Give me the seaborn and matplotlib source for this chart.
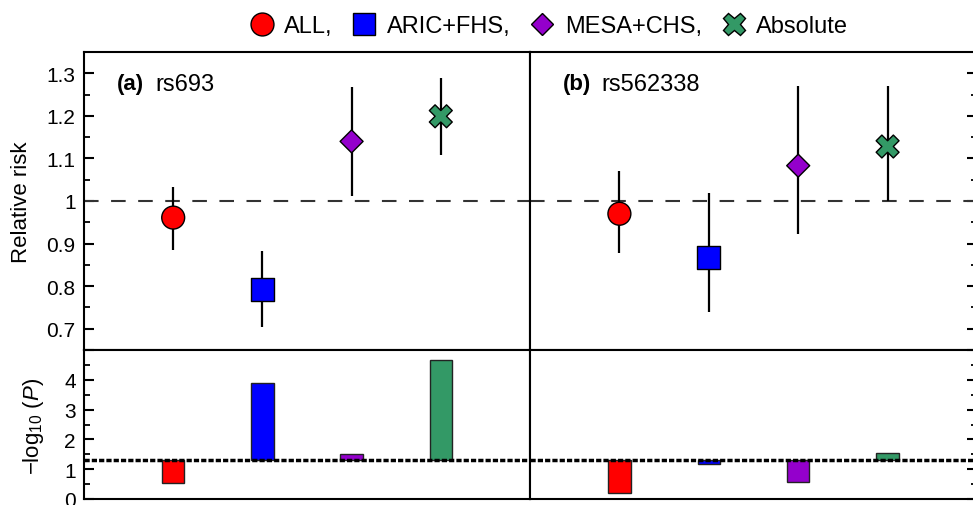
import matplotlib
matplotlib.use("Agg")
import matplotlib.pyplot as plt
import numpy as np
import pandas as pd
import seaborn as sns
from matplotlib.lines import Line2D
from matplotlib.ticker import MultipleLocator, FuncFormatter

# groups, plotting order and styles
groups = ["ALL", "ARIC+FHS", "MESA+CHS", "Absolute"]
positions = [1, 2, 3, 4]
colors = {"ALL": "#FF0000", "ARIC+FHS": "#0000FF", "MESA+CHS": "#9400CC", "Absolute": "#339966"}
markers = {"ALL": "o", "ARIC+FHS": "s", "MESA+CHS": "D", "Absolute": "X"}
sizes = {"ALL": 272, "ARIC+FHS": 272, "MESA+CHS": 137, "Absolute": 272}

# relative risk and CI, panel (a) rs693
rr_a = [0.961, 0.792, 1.140, 1.199]
lo_a = [0.886, 0.703, 1.012, 1.107]
hi_a = [1.034, 0.882, 1.267, 1.290]
# panel (b) rs562338
rr_b = [0.970, 0.868, 1.083, 1.128]
lo_b = [0.878, 0.739, 0.923, 1.000]
hi_b = [1.071, 1.018, 1.270, 1.270]

# -log10(P)
logp_a = [0.54, 3.88, 1.50, 4.67]
logp_b = [0.21, 1.16, 0.57, 1.55]
threshold = 1.3

sns.set_theme(style="white")
plt.rcParams["font.family"] = ["Liberation Sans", "DejaVu Sans"]
plt.rcParams["mathtext.fontset"] = "custom"
plt.rcParams["mathtext.rm"] = "Liberation Sans"
plt.rcParams["mathtext.it"] = "Liberation Sans:italic"
plt.rcParams["axes.linewidth"] = 1.5
for key in ["text.color", "axes.labelcolor", "xtick.color", "ytick.color", "axes.edgecolor"]:
    plt.rcParams[key] = "black"

W, H = 973, 506
fig = plt.figure(figsize=(W / 100, H / 100), dpi=100)


def px_axes(x0, y0, x1, y1):
    return fig.add_axes([x0 / W, 1 - y1 / H, (x1 - x0) / W, (y1 - y0) / H])


ax_tl = px_axes(84, 53, 530, 351)
ax_tr = px_axes(530, 53, 977, 351)
ax_bl = px_axes(84, 351, 530, 500)
ax_br = px_axes(530, 351, 977, 500)

panels = [
    (ax_tl, ax_bl, rr_a, lo_a, hi_a, logp_a, "(a)", "rs693"),
    (ax_tr, ax_br, rr_b, lo_b, hi_b, logp_b, "(b)", "rs562338"),
]

for i, (ax, axb, rr, lo, hi, logp, tag, snp) in enumerate(panels):
    df = pd.DataFrame({"pos": positions, "rr": rr, "lo": lo, "hi": hi, "group": groups})

    ax.axhline(1.0, color="#333333", lw=1.5, ls=(0, (7, 6)), zorder=1)
    ax.vlines(df["pos"], df["lo"], df["hi"], color="black", lw=1.6, zorder=2)
    sns.scatterplot(data=df, x="pos", y="rr", hue="group", style="group", size="group",
                    palette=colors, markers=markers, sizes=sizes, hue_order=groups,
                    edgecolor="black", linewidth=1, legend=False, zorder=3, ax=ax)
    ax.set_xlim(0, 5)
    ax.set_ylim(0.65, 1.35)
    ax.text(33 / 446, 0.893, tag, transform=ax.transAxes, fontsize=16,
            fontweight="bold", va="center", ha="left")
    ax.text(71 / 446, 0.893, snp, transform=ax.transAxes, fontsize=17,
            va="center", ha="left")

    dfb = pd.DataFrame({"pos": positions, "h": np.array(logp) - threshold, "group": groups})
    sns.barplot(data=dfb, x="pos", y="h", hue="group", palette=colors, hue_order=groups,
                native_scale=True, dodge=False, width=0.25, bottom=threshold, saturation=1,
                edgecolor="#222222", linewidth=1, legend=False, ax=axb)
    axb.axhline(threshold, color="black", lw=2.5, ls=(0, (1.5, 0.6)), zorder=4)
    axb.set_xlim(0, 5)
    axb.set_ylim(0, 5)

    for a, major, minor in [(ax, 0.1, 0.05), (axb, 1, 0.5)]:
        a.set_xlabel("")
        a.set_ylabel("")
        a.set_xticks([])
        a.yaxis.set_major_locator(MultipleLocator(major))
        a.yaxis.set_minor_locator(MultipleLocator(minor))
        side = "left" if i == 0 else "right"
        a.yaxis.set_ticks_position(side)
        a.tick_params(axis="y", which="major", direction="in", length=7, width=1.5,
                      labelsize=15, pad=6, colors="black")
        a.tick_params(axis="y", which="minor", direction="in", length=4, width=1.3)
        if i == 1:
            a.tick_params(axis="y", which="both", labelright=False, labelleft=False)
        for s in a.spines.values():
            s.set_color("black")
            s.set_linewidth(1.5)

ax_tl.yaxis.set_major_formatter(FuncFormatter(lambda v, p: f"{v:g}" if 0.66 < v < 1.34 else ""))
ax_bl.yaxis.set_major_formatter(FuncFormatter(lambda v, p: f"{v:g}" if v < 4.5 else ""))

fig.text(22 / W, 1 - 202 / H, "Relative risk", rotation=90, ha="center", va="center", fontsize=16)
fig.text(33 / W, 1 - 426 / H, r"$-\mathrm{log}_{10}\ (\mathit{P})$", rotation=90,
         ha="center", va="center", fontsize=16)

handles = [Line2D([], [], ls="", marker=markers[g], markersize=(11.7 if g == "MESA+CHS" else 16.5),
                  markerfacecolor=colors[g], markeredgecolor="black", markeredgewidth=1)
           for g in groups]
labels = ["ALL,", "ARIC+FHS,", "MESA+CHS,", "Absolute"]
fig.legend(handles, labels, loc="center", bbox_to_anchor=(549 / W, 1 - 27 / H), ncol=4,
           frameon=False, fontsize=17, handlelength=1.0, handletextpad=0.45,
           columnspacing=0.85, borderpad=0)

fig.savefig("out.png", dpi=100)
